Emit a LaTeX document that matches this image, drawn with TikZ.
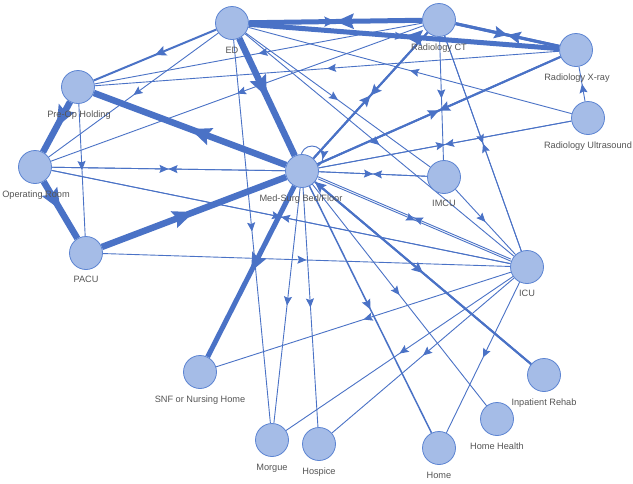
\documentclass[tikz,border=0pt]{standalone}
\usepackage{fontspec}
\setmainfont{Liberation Sans}
\usetikzlibrary{arrows.meta,decorations.markings}
\pgfdeclarelayer{bg}
\pgfsetlayers{bg,main}
\definecolor{edgeblue}{RGB}{74,114,198}
\definecolor{nodefill}{RGB}{165,188,231}
\definecolor{nodeline}{RGB}{92,132,210}
\definecolor{lblgray}{RGB}{85,85,85}
\tikzset{
  st/.style={circle, minimum size=33pt, inner sep=0pt, fill=nodefill, draw=nodeline, line width=0.8pt},
  lbl/.style={anchor=base, font=\fontsize{9.2}{10}\selectfont, text=lblgray, inner sep=0pt},
  midarrow/.style n args={3}{postaction={decorate,decoration={markings,
      mark=at position 0.5 with {\arrow[edgeblue]{Stealth[length=#1,width=#2,inset=#3]}}}}},
  e1/.style={draw=edgeblue, line width=0.9pt, midarrow={9pt}{8pt}{1.5pt}},
  e15/.style={draw=edgeblue, line width=1.5pt, midarrow={10pt}{9pt}{1.6pt}},
  e2/.style={draw=edgeblue, line width=2pt, midarrow={11pt}{10pt}{1.8pt}},
  e3/.style={draw=edgeblue, line width=3pt, midarrow={13pt}{12pt}{2pt}},
  e5/.style={draw=edgeblue, line width=5pt, midarrow={18pt}{15pt}{2.5pt}},
  e6/.style={draw=edgeblue, line width=6.5pt, midarrow={21pt}{17pt}{3pt}},
}
\begin{document}
\begin{tikzpicture}[x=1pt,y=-1pt]
\useasboundingbox (0,0) rectangle (633,483);

% nodes
\node[st] (ED) at (232,23) {};
\node[st] (CT) at (439,20) {};
\node[st] (XR) at (576,50) {};
\node[st] (US) at (588,118) {};
\node[st] (PRE) at (78,87) {};
\node[st] (OR) at (35,167) {};
\node[st] (PACU) at (86,253) {};
\node[st] (MS) at (302,171) {};
\node[st] (IMCU) at (444,177) {};
\node[st] (ICU) at (527,267) {};
\node[st] (SNF) at (200,372) {};
\node[st] (MOR) at (272,440) {};
\node[st] (HOS) at (319,444) {};
\node[st] (HOME) at (439,448) {};
\node[st] (HH) at (497,419) {};
\node[st] (IR) at (544,375) {};

% labels
\node[lbl] (EDl) at (232,53.5) {ED};
\node[lbl] (CTl) at (439,50.5) {Radiology CT};
\node[lbl] (XRl) at (577,80.5) {Radiology X-ray};
\node[lbl] (USl) at (588,148.5) {Radiology Ultrasound};
\node[lbl] (PREl) at (79,117.5) {Pre-Op Holding};
\node[lbl] (ORl) at (36,197.5) {Operating Room};
\node[lbl] (PACUl) at (86,282.5) {PACU};
\node[lbl] (MSl) at (301,201.5) {Med-Surg Bed/Floor};
\node[lbl] (IMCUl) at (444,206.5) {IMCU};
\node[lbl] (ICUl) at (527,296.5) {ICU};
\node[lbl] (SNFl) at (200,402) {SNF or Nursing Home};
\node[lbl] (MORl) at (272,470) {Morgue};
\node[lbl] (HOSl) at (319,474.5) {Hospice};
\node[lbl] (HOMEl) at (439,478) {Home};
\node[lbl] (HHl) at (497,449) {Home Health};
\node[lbl] (IRl) at (544,405) {Inpatient Rehab};

\begin{pgfonlayer}{bg}
\fill[white] (0,0) rectangle (633,483);
% thin edges
\draw[e1] (CT) -- (PRE);
\draw[e1] (XR) -- (PRE);
\draw[e1] (CT) -- (OR);
\draw[e1] (ED) -- (OR);
\draw[e1] (ED) -- (MOR);
\draw[e1] (ED) -- (IMCU);
\draw[e1] (ED) -- (ICU);
\draw[e1] (ED) -- (XR);
\draw[e1] (US) -- (ED);
\draw[e1] (US) -- (XR);
\draw[e1] (MS) -- (US);
\draw[e1] (US) -- (MS);
\draw[e1] (MS) -- (IMCU);
\draw[e1] (IMCU) -- (MS);
\draw[e1] (MS) -- (OR);
\draw[e1] (OR) -- (MS);
\draw[e1] (OR) -- (ICU);
\draw[e1] (ICU) -- (OR);
\draw[e1] (PRE) -- (PACU);
\draw[e1] (PACU) -- (ICU);
\draw[e1, transform canvas={shift={(0.6pt,-1.3pt)}}] (MS) -- (ICU);
\draw[e1, transform canvas={shift={(-0.6pt,1.3pt)}}] (ICU) -- (MS);
\draw[e1] (MS) -- (MOR);
\draw[e1] (MS) -- (HOS);
\draw[e1] (MS) -- (HH);
\draw[e1] (CT) -- (IMCU);
\draw[e1] (CT) -- (ICU);
\draw[e1] (ICU) -- (CT);
\draw[e1] (IMCU) -- (ICU);
\draw[e1] (ICU) -- (SNF);
\draw[e1] (ICU) -- (MOR);
\draw[e1] (ICU) -- (HOS);
\draw[e1] (ICU) -- (HOME);
% medium edges
\draw[e15] (MS) -- (HOME);
\draw[e2] (ED) -- (PRE);
\draw[e2] (MS) -- (CT);
\draw[e2] (CT) -- (MS);
\draw[e2] (MS) -- (XR);
\draw[e2] (XR) -- (MS);
\draw[e2] (MS) -- (IR);
\draw[draw=edgeblue, line width=2pt, -{Stealth[length=11pt,width=10pt,inset=1.8pt]}] (IR) -- (MS);
\draw[e2] (ED) -- (CT);
\draw[e3] (CT) -- (XR);
\draw[e3] (XR) -- (CT);
% thick edges
\draw[e5] (CT) -- (ED);
\draw[e5] (XR) -- (ED);
\draw[e5] (MS) -- (SNF);
\draw[e6] (ED) -- (MS);
\draw[e6] (MS) -- (PRE);
\draw[e6] (PRE) -- (OR);
\draw[e6] (OR) -- (PACU);
\draw[e6] (PACU) -- (MS);
% self loop on Med-Surg
\draw[draw=edgeblue, line width=0.9pt, postaction={decorate,decoration={markings,
      mark=at position 0.03 with {\arrow[edgeblue]{Stealth[length=9pt,width=8pt,inset=1.5pt]}}}}]
  (312,157) circle[radius=11];
\end{pgfonlayer}
\end{tikzpicture}
\end{document}
